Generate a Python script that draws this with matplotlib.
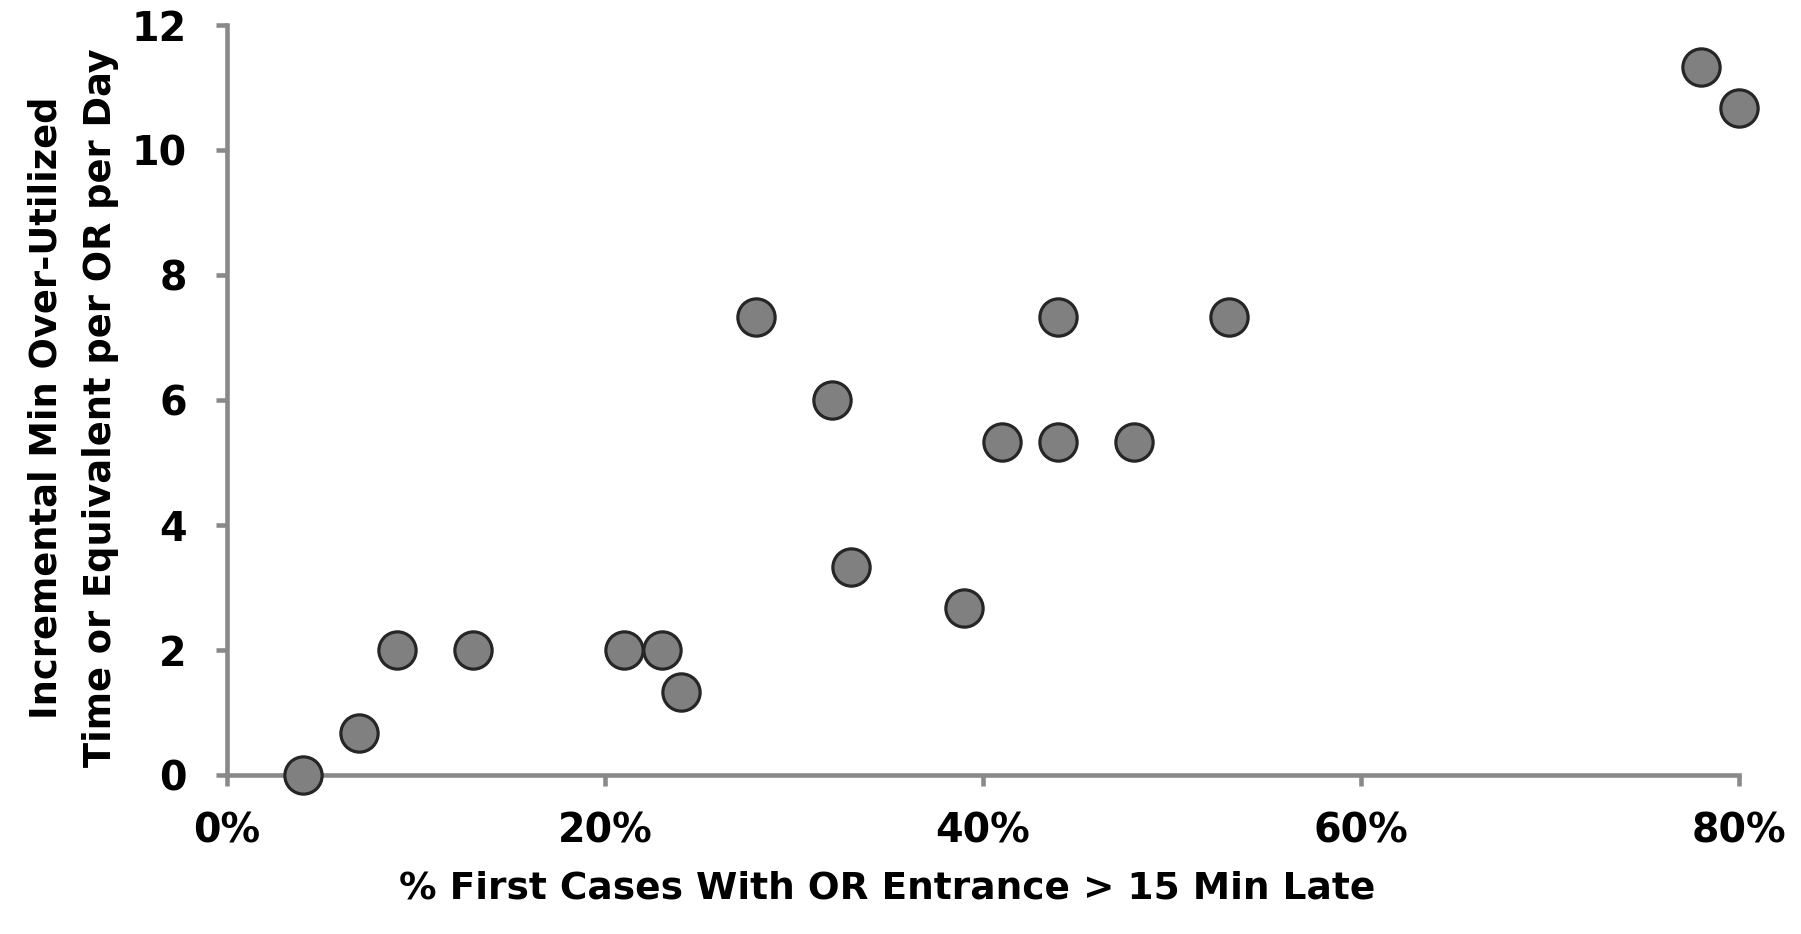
import matplotlib
matplotlib.use('Agg')
import matplotlib.pyplot as plt
from matplotlib.ticker import FuncFormatter

# % first cases with OR entrance > 15 min late
pct_late = [4, 7, 9, 13, 21, 23, 24, 28, 32, 33, 39, 41, 44, 44, 48, 53, 78, 80]
# incremental min over-utilized time per OR per day
extra_min = [0, 0.67, 2, 2, 2, 2, 1.33, 7.33, 6, 3.33, 2.67, 5.33, 7.33, 5.33, 5.33, 7.33, 11.33, 10.67]

x_ticks = [0, 20, 40, 60, 80]
y_ticks = [0, 2, 4, 6, 8, 10, 12]

axis_grey = '#898989'

plt.rcParams['font.family'] = ['DejaVu Sans']
plt.rcParams['font.weight'] = 'bold'

fig = plt.figure(figsize=(18.01, 9.34), dpi=100)
ax = fig.add_axes([0.126, 0.17, 0.8395, 0.803])

ax.scatter(pct_late, extra_min, s=720, facecolor='#808080', edgecolor='#262626',
           linewidths=2.3, zorder=5, clip_on=False)

ax.set_xlim(0, 80)
ax.set_ylim(0, 12)
ax.set_xticks(x_ticks)
ax.set_yticks(y_ticks)
ax.xaxis.set_major_formatter(FuncFormatter(lambda v, p: f'{v:.0f}%'))

for side in ['top', 'right']:
    ax.spines[side].set_visible(False)
for side in ['left', 'bottom']:
    ax.spines[side].set_color(axis_grey)
    ax.spines[side].set_linewidth(3.3)

ax.tick_params(axis='both', direction='out', length=8, width=3.3, color=axis_grey,
               labelsize=28.5, labelcolor='black')
ax.tick_params(axis='x', pad=18)
ax.tick_params(axis='y', pad=21)

ax.set_xlabel('% First Cases With OR Entrance > 15 Min Late', fontsize=27,
              fontweight='bold')
ax.xaxis.set_label_coords(0.437, -0.127)
ax.set_ylabel('Incremental Min Over-Utilized\nTime or Equivalent per OR per Day',
              fontsize=26.5, fontweight='bold', linespacing=1.6)
ax.yaxis.set_label_coords(-0.0715, 0.49)

fig.savefig('out.png', dpi=100)
